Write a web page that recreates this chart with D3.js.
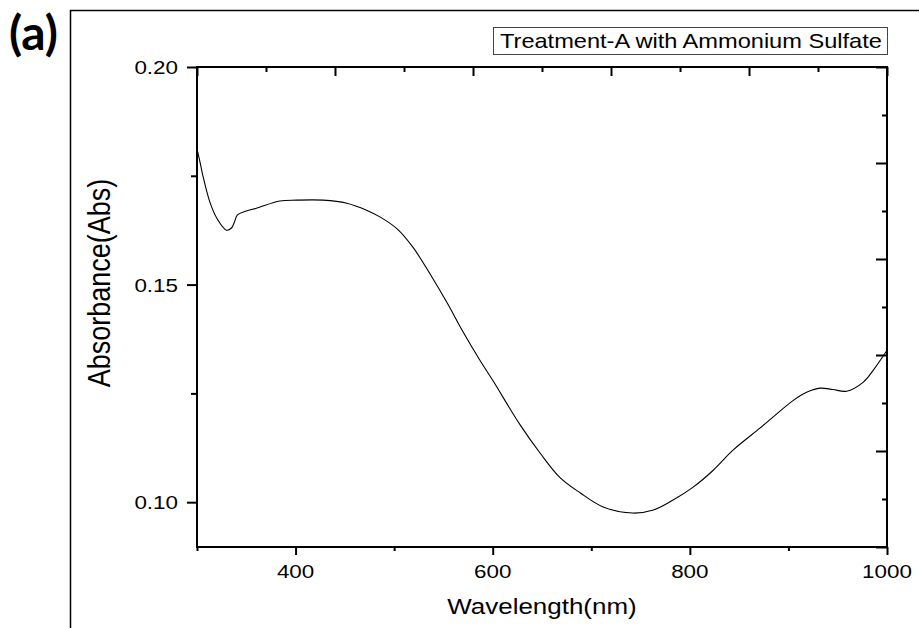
<!DOCTYPE html>
<html>
<head>
<meta charset="utf-8">
<script src="https://cdn.jsdelivr.net/npm/d3@7"></script>
<style>
  html, body { margin: 0; padding: 0; background: #fff; }
  svg { display: block; }
  text { font-family: "Liberation Sans", Arial, sans-serif; fill: #000; }
</style>
</head>
<body>
<svg id="chart" width="919" height="628"></svg>
<script>
// ---- data ----
const wavelength = [300, 303, 306, 313, 320, 330, 335, 338, 341, 350, 361, 384, 401, 428, 452, 472, 486,
  503, 519, 536, 554, 570, 587, 600, 628, 648, 668, 689, 712, 742, 763, 783, 803, 824, 844, 871,
  884, 905, 919, 932, 945, 959, 976, 986, 1000];
const absorbance = [0.1812, 0.1782, 0.1750, 0.1690, 0.1653, 0.1625, 0.1630, 0.1644, 0.1660, 0.1669, 0.1676, 0.1692, 0.1694, 0.1694, 0.1687, 0.1671, 0.1655,
  0.1628, 0.1586, 0.1526, 0.1457, 0.1391, 0.1326, 0.1280, 0.1177, 0.1113, 0.1057, 0.1021, 0.0989, 0.0975, 0.0982, 0.1005, 0.1034, 0.1074, 0.1120, 0.1170,
  0.1195, 0.1234, 0.1253, 0.1262, 0.1259, 0.1255, 0.1276, 0.1303, 0.1349];
const xTicks = [400, 600, 800, 1000];
const xMinorTicks = [300, 500, 700, 900];
const yTicks = [0.10, 0.15, 0.20];
const yMinorTicks = [0.125, 0.175];
const xDomain = [300, 1000];
const yDomain = [0.0897, 0.20];
const panelLabel = "(a)";
const legendLabel = "Treatment-A with Ammonium Sulfate";
const xTitle = "Wavelength(nm)";
const yTitle = "Absorbance(Abs)";

// ---- layout ----
const L = 197, R = 887, T = 67, B = 547;
const SX = 1.18; // horizontal stretch of text in the reference
const svg = d3.select("#chart");

const x = d3.scaleLinear().domain(xDomain).range([L, R]);
const y = d3.scaleLinear().domain(yDomain).range([B, T]);

// outer frame
svg.append("path")
  .attr("d", `M70.5,628 L70.5,10.5 L919,10.5`)
  .attr("fill", "none").attr("stroke", "#000").attr("stroke-width", 1.5);

// panel label
svg.append("text").attr("transform", "translate(9,50)")
  .style("font-family", "Lato, 'Open Sans', sans-serif").style("font-weight", "bold")
  .style("font-size", "48px").text(panelLabel);

// curve
const line = d3.line().x((d, i) => x(wavelength[i])).y(d => y(d)).curve(d3.curveCatmullRom.alpha(0.5));
svg.append("path").datum(absorbance)
  .attr("d", line).attr("fill", "none").attr("stroke", "#000").attr("stroke-width", 1.1);

function styleAxis(g) {
  g.selectAll(".domain").remove();
  g.selectAll("line").attr("stroke", "#000").attr("stroke-width", 2);
}

// bottom axis (outward ticks)
svg.append("g").attr("transform", `translate(0,${B})`)
  .call(d3.axisBottom(x).tickValues(xTicks).tickSize(8).tickFormat(""))
  .call(styleAxis);
svg.append("g").attr("transform", `translate(0,${B})`)
  .call(d3.axisBottom(x).tickValues(xMinorTicks).tickSize(4).tickFormat(""))
  .call(styleAxis);
// left axis (outward ticks)
svg.append("g").attr("transform", `translate(${L},0)`)
  .call(d3.axisLeft(y).tickValues(yTicks).tickSize(10).tickFormat(""))
  .call(styleAxis);
svg.append("g").attr("transform", `translate(${L},0)`)
  .call(d3.axisLeft(y).tickValues(yMinorTicks).tickSize(6).tickFormat(""))
  .call(styleAxis);

// top axis: 10 divisions, inward ticks
const topTicks = d3.range(0, 11).map(k => xDomain[0] + k * (xDomain[1] - xDomain[0]) / 10);
svg.append("g").attr("transform", `translate(0,${T})`)
  .call(d3.axisTop(x).tickValues(topTicks.filter((d, i) => i % 2 === 0)).tickSize(-9).tickFormat(""))
  .call(styleAxis);
svg.append("g").attr("transform", `translate(0,${T})`)
  .call(d3.axisTop(x).tickValues(topTicks.filter((d, i) => i % 2 === 1)).tickSize(-5).tickFormat(""))
  .call(styleAxis);
// right axis: 10 divisions, inward ticks
const rightTicks = d3.range(0, 11).map(k => yDomain[0] + k * (yDomain[1] - yDomain[0]) / 10);
svg.append("g").attr("transform", `translate(${R},0)`)
  .call(d3.axisRight(y).tickValues(rightTicks.filter((d, i) => i % 2 === 0)).tickSize(-11).tickFormat(""))
  .call(styleAxis);
svg.append("g").attr("transform", `translate(${R},0)`)
  .call(d3.axisRight(y).tickValues(rightTicks.filter((d, i) => i % 2 === 1)).tickSize(-5).tickFormat(""))
  .call(styleAxis);

// axis frame lines
svg.append("rect").attr("x", L).attr("y", T).attr("width", R - L).attr("height", B - T)
  .attr("fill", "none").attr("stroke", "#000").attr("stroke-width", 2);

// tick labels
const fmtY = d3.format(".2f");
svg.append("g").selectAll("text").data(xTicks).join("text")
  .attr("transform", d => `translate(${x(d)},${B + 31}) scale(${SX},1)`)
  .attr("text-anchor", "middle").style("font-size", "19px").text(d => d);
svg.append("g").selectAll("text").data(yTicks).join("text")
  .attr("transform", d => `translate(${L - 19},${y(d) + 7}) scale(${SX},1)`)
  .attr("text-anchor", "end").style("font-size", "19px").text(d => fmtY(d));

// axis titles
svg.append("text")
  .attr("transform", `translate(${(L + R) / 2},${614}) scale(${SX},1)`)
  .attr("text-anchor", "middle").style("font-size", "22px").text(xTitle);
svg.append("text")
  .attr("transform", `translate(${110},${283}) scale(${SX},1) rotate(-90)`)
  .attr("text-anchor", "middle").style("font-size", "27px").text(yTitle);

// legend
const lg = svg.append("g");
lg.append("rect").attr("x", 493.5).attr("y", 27.5).attr("width", 394).attr("height", 27)
  .attr("fill", "#fff").attr("stroke", "#444").attr("stroke-width", 1);
lg.append("text").attr("transform", `translate(500,48) scale(${SX},1)`)
  .style("font-size", "20px").text(legendLabel);
</script>
</body>
</html>
